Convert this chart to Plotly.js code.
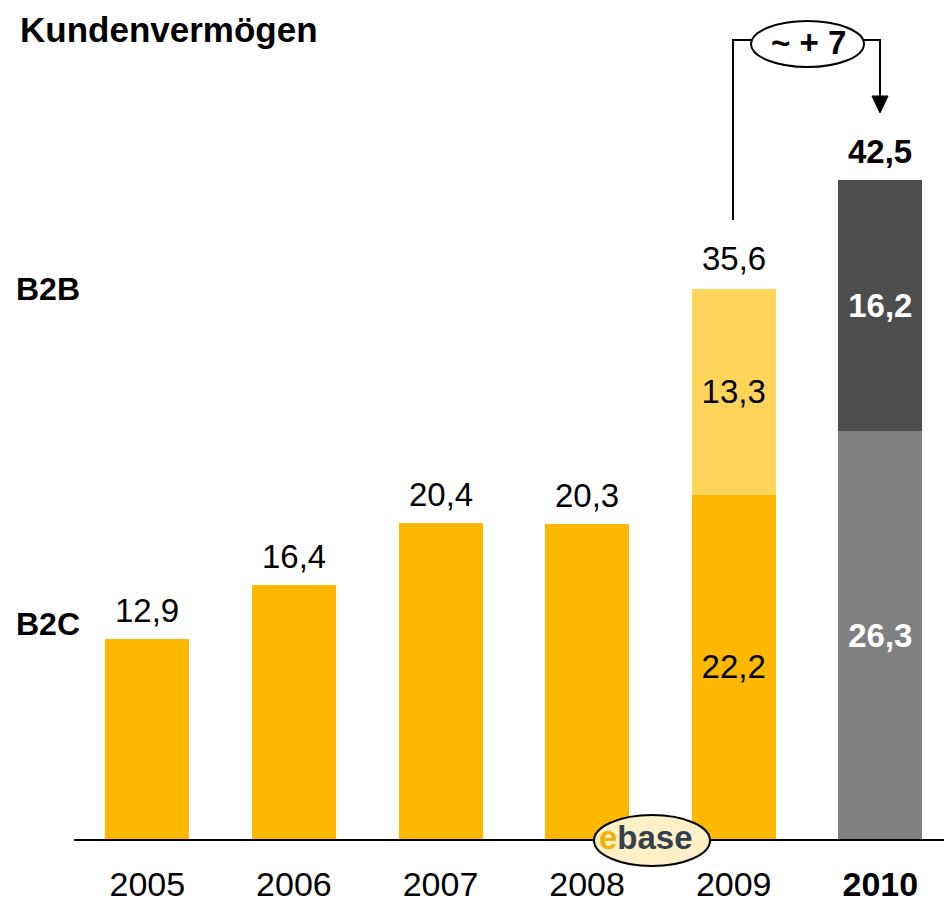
<!DOCTYPE html>
<html><head><meta charset="utf-8">
<script src="https://cdn.plot.ly/plotly-3.0.1.min.js"></script>
<style>html,body{margin:0;padding:0;background:#fff}</style>
</head><body><div id="chart" style="width:944px;height:903px"></div>
<script>
// Data
const years = ["2005","2006","2007","2008","2009","2010"];
const b2c   = [12.9, 16.4, 20.4, 20.3, 22.2, 26.3];
const b2b   = [null, null, null, null, 13.3, 16.2];
const totals = [12.9, 16.4, 20.4, 20.3, 35.6, 42.5];
const growthLabel = "~ + 7";

const fmt = v => v.toFixed(1).replace('.', ',');
const FONT = "Liberation Sans, Arial, sans-serif";
const xs = years.map((_, i) => i);
const last = years.length - 1;

const W = 944, H = 903, L = 74, B = 64;
const plotH = H - B, plotW = W - L;
const xp = px => (px - L) / plotW;
const yp = py => (plotH - py) / plotH;

const orange = "#FFB800", lightY = "#FFD45A", dark = "#4D4D4D", gray = "#808080";
const FS = 33;

const traces = [
  { type: "bar", x: xs.slice(0, last), y: b2c.slice(0, last), width: 0.573,
    marker: { color: orange, line: { width: 0 } },
    text: b2c.slice(0, last).map((v, i) => i === last - 1 ? fmt(v) : ""),
    textposition: "inside", insidetextanchor: "middle", constraintext: "none",
    textfont: { family: FONT, size: FS, color: "#000" }, hoverinfo: "none" },
  { type: "bar", x: xs.slice(0, last), y: b2b.slice(0, last), width: 0.573,
    marker: { color: lightY, line: { width: 0 } },
    text: b2b.slice(0, last).map(v => v == null ? "" : fmt(v)),
    textposition: "inside", insidetextanchor: "middle", constraintext: "none",
    textfont: { family: FONT, size: FS, color: "#000" }, hoverinfo: "none" },
  { type: "bar", x: [last], y: [b2c[last]], width: 0.573,
    marker: { color: gray, line: { width: 0 } },
    text: [fmt(b2c[last])], textposition: "inside", insidetextanchor: "middle", constraintext: "none",
    textfont: { family: FONT, size: FS, color: "#fff", weight: "bold" }, hoverinfo: "none" },
  { type: "bar", x: [last], y: [b2b[last]], width: 0.573,
    marker: { color: dark, line: { width: 0 } },
    text: [fmt(b2b[last])], textposition: "inside", insidetextanchor: "middle", constraintext: "none",
    textfont: { family: FONT, size: FS, color: "#fff", weight: "bold" }, hoverinfo: "none" }
];

const annotations = totals.map((t, i) => ({
  x: i, y: t, xref: "x", yref: "y", text: i === last ? "<b>" + fmt(t) + "</b>" : fmt(t),
  showarrow: false, yanchor: "bottom", yshift: 8,
  font: { family: FONT, size: FS, color: "#000" }
}));
annotations.push(
  { xref: "paper", yref: "paper", x: xp(18), y: yp(30), xanchor: "left", yanchor: "middle",
    text: "<b>Kundenvermögen</b>", showarrow: false, font: { family: FONT, size: 35, color: "#000" } },
  { xref: "paper", yref: "paper", x: xp(14), y: yp(289), xanchor: "left", yanchor: "middle",
    text: "<b>B2B</b>", showarrow: false, font: { family: FONT, size: 32, color: "#000" } },
  { xref: "paper", yref: "paper", x: xp(14), y: yp(624), xanchor: "left", yanchor: "middle",
    text: "<b>B2C</b>", showarrow: false, font: { family: FONT, size: 32, color: "#000" } },
  { xref: "paper", yref: "paper", x: xp(808), y: yp(43), xanchor: "center", yanchor: "middle",
    text: "<b>" + growthLabel + "</b>", showarrow: false, font: { family: FONT, size: 33, color: "#000" } },
  { xref: "paper", yref: "paper", x: xp(646), y: yp(837), xanchor: "center", yanchor: "middle",
    text: "<b><span style='color:#F2B000'>e</span>base</b>", showarrow: false,
    font: { family: FONT, size: 33, color: "#34414C" } }
);

const shapes = [
  { type: "path", xref: "paper", yref: "paper",
    path: `M ${xp(733)} ${yp(220)} L ${xp(733)} ${yp(40)} L ${xp(751)} ${yp(40)}`,
    line: { color: "#000", width: 2 } },
  { type: "path", xref: "paper", yref: "paper",
    path: `M ${xp(864)} ${yp(40)} L ${xp(880)} ${yp(40)} L ${xp(880)} ${yp(98)}`,
    line: { color: "#000", width: 2 } },
  { type: "path", xref: "paper", yref: "paper",
    path: `M ${xp(872)} ${yp(96)} L ${xp(888)} ${yp(96)} L ${xp(880)} ${yp(113)} Z`,
    fillcolor: "#000", line: { color: "#000", width: 1 } },
  { type: "circle", xref: "paper", yref: "paper",
    x0: xp(751), x1: xp(864), y0: yp(21), y1: yp(67),
    fillcolor: "#fff", line: { color: "#000", width: 2 } },
  { type: "circle", xref: "paper", yref: "paper",
    x0: xp(594), x1: xp(710), y0: yp(815), y1: yp(866),
    fillcolor: "#FFF0C8", line: { color: "#000", width: 2 }, layer: "above" }
];

const layout = {
  width: W, height: H,
  margin: { l: L, r: 0, t: 0, b: B, pad: 0 },
  paper_bgcolor: "#fff", plot_bgcolor: "#fff",
  barmode: "stack", showlegend: false,
  font: { family: FONT, color: "#000" },
  xaxis: { range: [-0.5, (plotW / 146.6) - 0.5], tickvals: xs,
    ticktext: years.map((y, i) => i === last ? "<b>" + y + "</b>" : y),
    showgrid: false, zeroline: false, showline: true, linecolor: "#000", linewidth: 2,
    ticks: "", tickfont: { family: FONT, size: 34, color: "#000" }, ticklabelstandoff: 14,
    fixedrange: true },
  yaxis: { range: [0, plotH / 15.5], visible: false, fixedrange: true },
  annotations, shapes
};

Plotly.newPlot("chart", traces, layout, { staticPlot: true, displayModeBar: false });
</script></body></html>
